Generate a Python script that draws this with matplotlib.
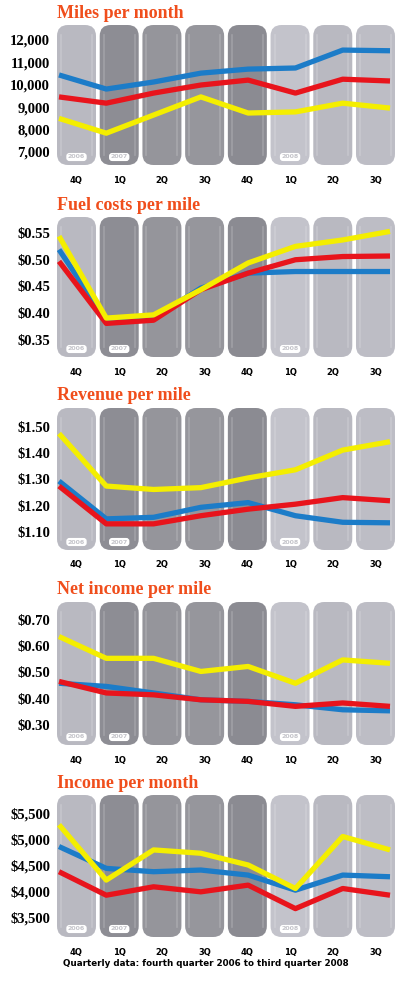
import numpy as np
import matplotlib
matplotlib.use("Agg")
import matplotlib.pyplot as plt
from matplotlib.patches import FancyBboxPatch

# quarters shown under every panel, years printed inside the pills
quarters = ["4Q", "1Q", "2Q", "3Q", "4Q", "1Q", "2Q", "3Q"]
year_tags = {0: "2006", 1: "2007", 5: "2008"}

# panel titles
titles = ["Miles per month", "Fuel costs per mile", "Revenue per mile",
          "Net income per mile", "Income per month"]

# series values per panel (blue, red, yellow)
miles_blue = [10440, 9810, 10125, 10520, 10700, 10750, 11550, 11520]
miles_red = [9460, 9180, 9630, 9990, 10210, 9630, 10250, 10170]
miles_yellow = [8500, 7840, 8650, 9460, 8740, 8790, 9180, 8960]

fuel_blue = [0.519, 0.387, 0.391, 0.447, 0.475, 0.478, 0.478, 0.478]
fuel_red = [0.497, 0.381, 0.387, 0.444, 0.475, 0.500, 0.506, 0.507]
fuel_yellow = [0.544, 0.391, 0.397, 0.444, 0.494, 0.525, 0.537, 0.553]

rev_blue = [1.294, 1.150, 1.156, 1.194, 1.212, 1.162, 1.137, 1.135]
rev_red = [1.275, 1.131, 1.131, 1.162, 1.187, 1.206, 1.231, 1.219]
rev_yellow = [1.475, 1.275, 1.262, 1.269, 1.306, 1.337, 1.412, 1.444]

net_blue = [0.459, 0.447, 0.422, 0.396, 0.390, 0.377, 0.358, 0.354]
net_red = [0.466, 0.422, 0.415, 0.396, 0.390, 0.371, 0.384, 0.371]
net_yellow = [0.637, 0.554, 0.554, 0.504, 0.523, 0.459, 0.548, 0.535]

inc_blue = [4855, 4435, 4371, 4403, 4306, 4016, 4306, 4274]
inc_red = [4371, 3919, 4081, 3984, 4113, 3661, 4048, 3919]
inc_yellow = [5274, 4210, 4790, 4726, 4500, 4048, 5048, 4790]

# y ticks and their labels
miles_ticks = [12000, 11000, 10000, 9000, 8000, 7000]
miles_labels = ["12,000", "11,000", "10,000", "9,000", "8,000", "7,000"]
fuel_ticks = [0.55, 0.50, 0.45, 0.40, 0.35]
fuel_labels = ["$0.55", "$0.50", "$0.45", "$0.40", "$0.35"]
rev_ticks = [1.50, 1.40, 1.30, 1.20, 1.10]
rev_labels = ["$1.50", "$1.40", "$1.30", "$1.20", "$1.10"]
net_ticks = [0.70, 0.60, 0.50, 0.40, 0.30]
net_labels = ["$0.70", "$0.60", "$0.50", "$0.40", "$0.30"]
inc_ticks = [5500, 5000, 4500, 4000, 3500]
inc_labels = ["$5,500", "$5,000", "$4,500", "$4,000", "$3,500"]

caption = "Quarterly data: fourth quarter 2006 to third quarter 2008"

W, H = 400, 985
BLUE, RED, YELLOW = "#1c7cc8", "#e8141c", "#f4ee00"
TITLE_C = "#f04e1c"
pill_colors = ["#b9b9c1", "#8d8d94", "#95959b", "#96969c", "#8b8b92",
               "#c3c3cb", "#b9b9c1", "#bdbdc5"]

# layout in pixels: pill top, pill bottom, px of top and bottom tick
panels = [
    (25, 165, titles[0], [miles_blue, miles_red, miles_yellow], miles_ticks, miles_labels, 40, 152),
    (217, 357, titles[1], [fuel_blue, fuel_red, fuel_yellow], fuel_ticks, fuel_labels, 233, 340),
    (408, 550, titles[2], [rev_blue, rev_red, rev_yellow], rev_ticks, rev_labels, 427, 532),
    (602, 745, titles[3], [net_blue, net_red, net_yellow], net_ticks, net_labels, 620, 725),
    (795, 937, titles[4], [inc_blue, inc_red, inc_yellow], inc_ticks, inc_labels, 813, 917),
]

left_px, right_px = 57, 395
width_px = right_px - left_px
pill_w = 39
pitch = (width_px + 3.7) / 8

fig = plt.figure(figsize=(W / 100, H / 100), dpi=100)
fig.patch.set_facecolor("white")

for top, bot, title, series, ticks, labels, p_hi, p_lo in panels:
    h_px = bot - top
    rect = [left_px / W, 1 - bot / H, width_px / W, h_px / H]

    # background axes in pixel units for the pills
    bg = fig.add_axes(rect)
    bg.set_xlim(0, width_px)
    bg.set_ylim(0, h_px)
    bg.axis("off")
    for i in range(8):
        x0 = i * pitch
        bg.add_patch(FancyBboxPatch((x0, 0), pill_w, h_px,
                                    boxstyle="round,pad=0,rounding_size=11",
                                    facecolor=pill_colors[i], edgecolor="none"))
        # faint inner highlight stripes
        for dx in (4, pill_w - 4):
            bg.plot([x0 + dx, x0 + dx], [10, h_px - 10], color="white",
                    alpha=0.18, lw=1.2)
        bg.text(x0 + pill_w / 2, -15, quarters[i], ha="center", va="center",
                fontsize=6, fontweight="bold", color="black", clip_on=False)
        if i in year_tags:
            bg.text(x0 + pill_w / 2, 8, year_tags[i], ha="center", va="center",
                    fontsize=4.5, fontweight="bold", color="#c4c4ca",
                    bbox=dict(boxstyle="round,pad=0.25,rounding_size=0.5",
                              facecolor="white", edgecolor="none"))

    # data axes overlaid
    ax = fig.add_axes(rect)
    ax.patch.set_alpha(0)
    v_hi, v_lo = ticks[0], ticks[-1]
    scale = (v_hi - v_lo) / (p_lo - p_hi)
    ax.set_ylim(v_lo - (bot - p_lo) * scale, v_hi + (p_hi - top) * scale)
    ax.set_xlim(0, width_px)
    xs = np.linspace(2, 333, len(quarters))
    for vals, col, z in zip(series, [BLUE, RED, YELLOW], [3, 4, 5]):
        ax.plot(xs, vals, color=col, lw=3.8, solid_capstyle="butt",
                solid_joinstyle="round", zorder=z)
    ax.set_yticks(ticks)
    ax.set_yticklabels(labels, family="Liberation Serif", fontweight="bold",
                       fontsize=10.5)
    ax.tick_params(axis="y", length=0, pad=5)
    ax.set_xticks([])
    for s in ax.spines.values():
        s.set_visible(False)

    fig.text(left_px / W, 1 - (top - 12) / H, title, ha="left", va="center",
             family="Liberation Serif", fontweight="bold", fontsize=13,
             color=TITLE_C)

fig.text(63 / W, 1 - 963 / H, caption, ha="left", va="center",
         fontsize=6.3, fontweight="bold", color="black")

fig.savefig("out.png", dpi=100, facecolor="white")
